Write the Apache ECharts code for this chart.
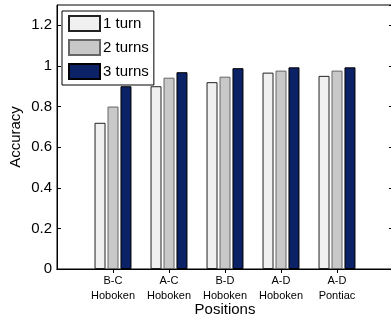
<!DOCTYPE html>
<html>
<head>
<meta charset="utf-8">
<script src="https://cdn.jsdelivr.net/npm/echarts@6/dist/echarts.min.js"></script>
<style>
  html, body { margin: 0; padding: 0; background: #fff; }
  #chart { width: 391px; height: 322px; }
</style>
</head>
<body>
<div id="chart"></div>
<script>
// padded with empty slots so the categories sit at 1..5 on a 0..6 axis
var positions = ['', 'B-C\nHoboken', 'A-C\nHoboken', 'B-D\nHoboken', 'A-D\nHoboken', 'A-D\nPontiac', ''];
var oneTurn = [null, 0.72, 0.90, 0.92, 0.967, 0.951, null];
var twoTurns = [null, 0.80, 0.942, 0.947, 0.977, 0.977, null];
var threeTurns = [null, 0.90, 0.969, 0.989, 0.993, 0.993, null];

var font = 'Liberation Sans, Arial, sans-serif';
var chart = echarts.init(document.getElementById('chart'));

var option = {
    animation: false,
    textStyle: { fontFamily: font },
    grid: {
        left: 57,
        top: 5,
        width: 336,
        bottom: 53,
        outerBoundsMode: 'none',
        containLabel: false,
        show: true,
        borderColor: '#000',
        borderWidth: 1
    },
    legend: {
        orient: 'vertical',
        left: 62,
        top: 11,
        itemWidth: 31,
        itemHeight: 15,
        itemGap: 7,
        padding: [4, 5, 5, 6],
        borderColor: '#000',
        borderWidth: 1,
        borderRadius: 0,
        backgroundColor: '#fff',
        icon: 'rect',
        textStyle: { fontSize: 15, color: '#000', fontFamily: font, padding: [0, 0, 0, -2] },
        data: ['1 turn', '2 turns', '3 turns']
    },
    xAxis: [{
        type: 'category',
        data: positions,
        boundaryGap: false,
        name: 'Positions',
        nameLocation: 'middle',
        nameGap: 41,
        nameMoveOverlap: false,
        nameTextStyle: { fontSize: 15, color: '#000', verticalAlign: 'middle' },
        axisLine: { lineStyle: { color: '#000' } },
        axisTick: { inside: true, length: 4, lineStyle: { color: '#000' } },
        axisLabel: { fontSize: 11, color: '#000', lineHeight: 15, margin: 4, interval: 0 },
        splitLine: { show: false }
    }, {
        type: 'category',
        position: 'top',
        data: positions,
        boundaryGap: false,
        axisLine: { lineStyle: { color: '#000' } },
        axisTick: { inside: true, length: 4, interval: function (i) { return i > 0 && i < 6; }, lineStyle: { color: '#000' } },
        axisLabel: { show: false },
        splitLine: { show: false }
    }],
    yAxis: [{
        type: 'value',
        min: 0,
        max: 1.3,
        interval: 0.2,
        name: 'Accuracy',
        nameLocation: 'middle',
        nameGap: 41,
        nameMoveOverlap: false,
        nameTextStyle: { fontSize: 15, color: '#000', verticalAlign: 'middle' },
        axisLine: { show: true, lineStyle: { color: '#000' } },
        axisTick: { show: true, inside: true, length: 4, lineStyle: { color: '#000' } },
        axisLabel: { fontSize: 15, color: '#000', margin: 5, showMaxLabel: false },
        splitLine: { show: false }
    }, {
        type: 'value',
        position: 'right',
        min: 0,
        max: 1.3,
        interval: 0.2,
        axisLine: { show: true, lineStyle: { color: '#000' } },
        axisTick: { show: true, inside: true, length: 4, lineStyle: { color: '#000' } },
        axisLabel: { show: false },
        splitLine: { show: false }
    }],
    series: [{
        name: '1 turn',
        type: 'bar',
        data: oneTurn,
        barWidth: 11,
        barGap: '18%',
        itemStyle: { color: '#f0f0f0', borderColor: '#222', borderWidth: 1 }
    }, {
        name: '2 turns',
        type: 'bar',
        data: twoTurns,
        barWidth: 11,
        barGap: '18%',
        itemStyle: { color: '#c8c8c8', borderColor: '#666', borderWidth: 1 }
    }, {
        name: '3 turns',
        type: 'bar',
        data: threeTurns,
        barWidth: 11,
        barGap: '18%',
        itemStyle: { color: '#0b2266', borderColor: '#000', borderWidth: 1 }
    }]
};

chart.setOption(option);
</script>
</body>
</html>
